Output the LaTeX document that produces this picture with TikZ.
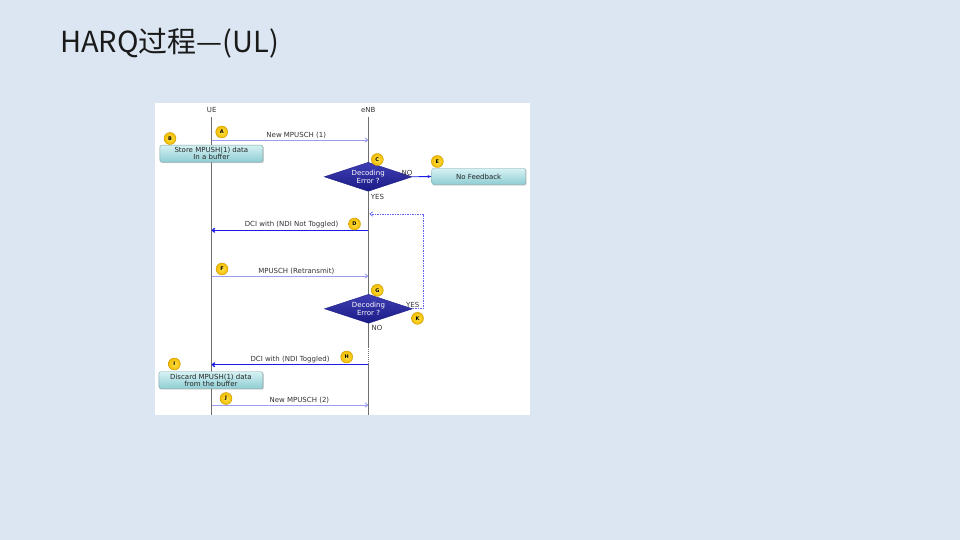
\documentclass[tikz,border=0pt]{standalone}
\usepackage{fontspec}
\setmainfont{DejaVu Sans}
\newfontfamily\cjkfont{Noto Sans CJK SC}
\usetikzlibrary{positioning,arrows.meta,shapes.geometric,shadows}
\definecolor{cSlide}{HTML}{DCE6F2}
\definecolor{cTitle}{HTML}{1A1A1A}
\definecolor{cLife}{HTML}{6E6E6E}
\definecolor{cTxt}{HTML}{333333}
\definecolor{cMsg}{HTML}{9C9CF2}
\definecolor{cDci}{HTML}{1C1CE8}
\definecolor{cRetx}{HTML}{6262F0}
\definecolor{cDecT}{HTML}{3F3FB4}
\definecolor{cDecB}{HTML}{1A1A86}
\definecolor{cBoxT}{HTML}{D6F2F4}
\definecolor{cBoxB}{HTML}{8ECDD3}
\definecolor{cBoxS}{HTML}{7FA3A6}
\definecolor{cBall}{HTML}{F2BC00}
\definecolor{cBallL}{HTML}{FFE24A}
\definecolor{cBallS}{HTML}{C99A00}
\tikzset{
  lbl/.style={font=\fontsize{7}{8}\selectfont,text=cTxt,inner sep=1.5pt},
  life/.style={draw=cLife,line width=0.9pt},
  msg/.style={-{To[length=3.5pt,width=5pt]},draw=cMsg,line width=0.9pt},
  dci/.style={-{To[length=3.5pt,width=5pt]},draw=cDci,line width=1.3pt},
  retx/.style={-{To[length=3.5pt,width=5pt]},draw=cRetx,line width=0.7pt,dash pattern=on 1.5pt off 1pt},
  nofb/.style={-{Stealth[length=4pt]},draw=cDci,line width=0.9pt},
  dec/.style={diamond,aspect=3,minimum width=88pt,minimum height=29pt,inner sep=0pt,top color=cDecT,bottom color=cDecB,draw=cDecB,text=white,align=center,font=\fontsize{7}{8}\selectfont},
  act/.style={rounded corners=2pt,draw=cBoxS,top color=cBoxT,bottom color=cBoxB,align=center,inner sep=1pt,text=black!85,font=\fontsize{7}{7.5}\selectfont,drop shadow={opacity=0.35,shadow xshift=1pt,shadow yshift=-1pt}},
  badge/.style={circle,inner color=cBallL,outer color=cBall,draw=cBallS,line width=0.4pt,minimum size=12pt,inner sep=0pt,font=\fontsize{5}{5}\selectfont\bfseries},
}
\begin{document}
\begin{tikzpicture}[x=1pt,y=-1pt]
  \useasboundingbox[fill=cSlide] (0,0) rectangle (960,540);
  \fill[white] (155,103) rectangle (530,415);
  \node[anchor=base west,inner sep=0pt,text=cTitle,font=\cjkfont\fontsize{29}{34}\selectfont] (title) at (60,53) {HARQ过程—(UL)};

  % lifelines
  \node[lbl] (ue) at (211.7,110) {UE};
  \node[lbl] (enb) at (368.3,110) {eNB};
  \coordinate (ueTop) at (211.7,117);
  \coordinate (ueEnd) at (211.7,415);
  \coordinate (enbTop) at (368.3,117);
  \coordinate (enbDot) at (368.3,347);
  \coordinate (enbSol) at (368.3,362.5);
  \coordinate (enbEnd) at (368.3,415);
  \draw[life] (ueTop) -- (ueEnd);
  \draw[life] (enbTop) -- (enbDot);
  \draw[life,dash pattern=on 1pt off 1pt] (enbDot) -- (enbSol);
  \draw[life] (enbSol) -- (enbEnd);

  % message end points
  \coordinate (ueA) at (211.7,140);   \coordinate (enbA) at (368.3,140);
  \coordinate (ueD) at (211.7,230.3); \coordinate (enbD) at (368.3,230.3);
  \coordinate (ueF) at (211.7,276);   \coordinate (enbF) at (368.3,276);
  \coordinate (ueH) at (211.7,364.7); \coordinate (enbH) at (368.3,364.7);
  \coordinate (ueJ) at (211.7,405);   \coordinate (enbJ) at (368.3,405);
  \coordinate (enbK) at (369.5,214);

  % boxes and decisions
  \node[act,minimum width=103pt,minimum height=17pt] (store) at (211.4,153.6) {Store MPUSH(1) data\\In a buffer};
  \node[act,minimum width=94pt,minimum height=16pt] (nofeed) at (478.7,176.5) {No Feedback};
  \node[act,minimum width=104pt,minimum height=17pt] (discard) at (210.9,380.2) {Discard MPUSH(1) data\\from the buffer};
  \node[dec] (dec1) at (368.2,176.8) {Decoding\\Error ?};
  \node[dec] (dec2) at (368.5,308.8) {Decoding\\Error ?};

  % messages
  \draw[msg] (ueA) -- node[lbl,above,pos=0.54]{New MPUSCH (1)} (enbA);
  \draw[dci] (enbD) -- node[lbl,above,pos=0.49]{DCI with (NDI Not Toggled)} (ueD);
  \draw[msg] (ueF) -- node[lbl,above,pos=0.54]{MPUSCH (Retransmit)} (enbF);
  \draw[dci] (enbH) -- node[lbl,above,pos=0.5]{DCI with (NDI Toggled)} (ueH);
  \draw[msg] (ueJ) -- node[lbl,above,pos=0.56]{New MPUSCH (2)} (enbJ);

  % decision outcomes
  \draw[nofb] (dec1.east) -- (nofeed.west);
  \node[lbl,above=0pt of dec1.east,xshift=-5.5pt] (no1) {NO};
  \node[lbl,below right=1pt and 1pt of dec1.south] (yes1) {YES};
  \draw[retx] (dec2.east) -- ++(10.5,0) |- (enbK);
  \node[lbl,above=0pt of dec2.east,xshift=0pt,yshift=-0.5pt] (yes2) {YES};
  \node[lbl,below right=0pt and 1.5pt of dec2.south] (no2) {NO};

  % step badges
  \node[badge] (bA) at (221.7,132) {A};
  \node[badge] (bB) at (170,138.5) {B};
  \node[badge] (bC) at (377.3,159.5) {C};
  \node[badge] (bE) at (437.3,161.5) {E};
  \node[badge] (bD) at (354.5,224) {D};
  \node[badge] (bF) at (222,269) {F};
  \node[badge] (bG) at (377.3,290.3) {G};
  \node[badge] (bK) at (417.5,318.3) {K};
  \node[badge] (bH) at (346.7,357) {H};
  \node[badge] (bI) at (174.3,364) {I};
  \node[badge] (bJ) at (226,398.5) {J};
\end{tikzpicture}
\end{document}
